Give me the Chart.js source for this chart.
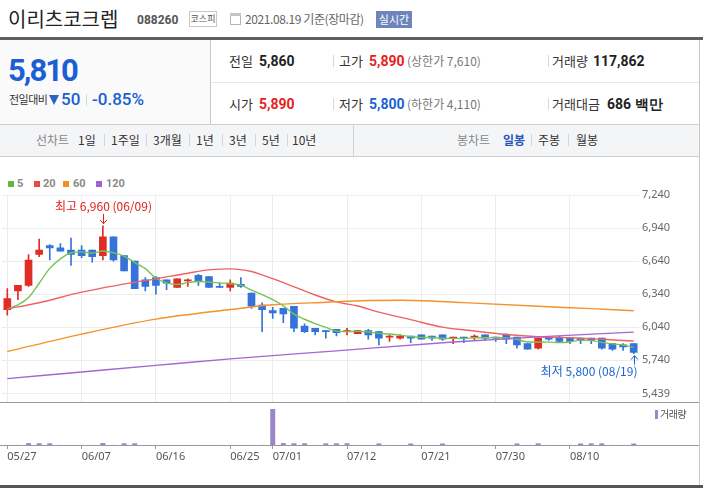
<!DOCTYPE html>
<html><head><meta charset="utf-8">
<script src="https://cdn.jsdelivr.net/npm/chart.js@4.4.0/dist/chart.umd.min.js"></script>
<style>
html,body{margin:0;padding:0;background:#fff;}
body{width:703px;height:488px;position:relative;overflow:hidden;font-family:"Noto Sans CJK KR","Noto Sans",sans-serif;color:#333;}
.a{position:absolute;white-space:nowrap;}
.num{font-family:Roboto,"Noto Sans",sans-serif;font-weight:700;}
.r1{top:53px;line-height:16px;font-size:13px;}
.r2{top:96px;line-height:16px;font-size:13px;}
.n{font-family:Roboto,sans-serif;font-weight:700;font-size:14px;color:#222;}
.g{font-size:12px;color:#777;}
.sep{position:absolute;width:1px;height:12px;background:#d8d8d8;}
.tab{top:132px;line-height:16px;font-size:12px;color:#333;}
.tsep{position:absolute;top:134px;width:1px;height:12px;background:#d6d6d6;}
.lg{position:absolute;top:181px;width:6px;height:6px;}
.lt{top:177px;font-family:Roboto,sans-serif;font-weight:700;font-size:11px;line-height:14px;color:#8a8a8a;}
</style></head><body>

<!-- header -->
<div class="a" style="left:8px;top:5px;font-size:20px;line-height:28px;color:#222;">이리츠코크렙</div>
<div class="a num" style="left:137px;top:12px;font-size:12px;line-height:16px;color:#555;">088260</div>
<div class="a" style="left:189px;top:11px;width:26px;height:14px;border:1px solid #c8c8c8;font-size:9px;line-height:14px;text-align:center;color:#555;">코스피</div>
<div class="a" style="left:230px;top:13px;width:9px;height:10px;border:1px solid #b5b5b5;"></div>
<div class="a" style="left:230px;top:13px;width:11px;height:3px;background:#c5c5c5;"></div>
<div class="a" style="left:245px;top:10px;font-size:12px;line-height:18px;color:#666;letter-spacing:-0.4px;">2021.08.19 기준(장마감)</div>
<div class="a" style="left:376px;top:11px;width:36px;height:17px;background:#6e84bd;color:#fff;font-size:11px;line-height:17px;text-align:center;">실시간</div>
<div class="a" style="left:0;top:37px;width:703px;height:3px;background:#5c6066;"></div>

<!-- info panel -->
<div class="a" style="left:0;top:40px;width:210px;height:84px;background:#fafafa;border-right:1px solid #cacaca;"></div>
<div class="a" style="left:211px;top:82px;width:488px;height:1px;background:#e6e6e6;"></div>
<div class="a num" style="left:8px;top:52px;font-size:31px;line-height:38px;color:#1a5fd6;letter-spacing:-2px;">5,810</div>
<div class="a" style="left:9px;top:92px;font-size:11px;line-height:14px;color:#333;letter-spacing:-0.5px;">전일대비</div>
<div class="a" style="left:49px;top:95px;width:0;height:0;border-left:5px solid transparent;border-right:5px solid transparent;border-top:10px solid #2a62c6;"></div>
<div class="a" style="left:61px;top:89px;font-family:Roboto,sans-serif;font-weight:500;font-size:17px;line-height:20px;color:#1a5fd6;">50</div>
<div class="sep" style="left:86px;top:94px;"></div>
<div class="a" style="left:92px;top:89px;font-family:Roboto,sans-serif;font-weight:500;font-size:17px;line-height:20px;color:#1a5fd6;">-0.85%</div>

<div class="a r1" style="left:229px;">전일</div>
<div class="a r1 n" style="left:259px;">5,860</div>
<div class="sep" style="left:333px;top:55px;"></div>
<div class="a r1" style="left:339px;">고가</div>
<div class="a r1 n" style="left:369px;color:#e8211d;">5,890</div>
<div class="a r1 g" style="left:407px;">(상한가 7,610)</div>
<div class="sep" style="left:548px;top:55px;"></div>
<div class="a r1" style="left:552px;">거래량</div>
<div class="a r1 n" style="left:593px;">117,862</div>

<div class="a r2" style="left:229px;">시가</div>
<div class="a r2 n" style="left:259px;color:#e8211d;">5,890</div>
<div class="sep" style="left:333px;top:98px;"></div>
<div class="a r2" style="left:339px;">저가</div>
<div class="a r2 n" style="left:369px;color:#1a5fd6;">5,800</div>
<div class="a r2 g" style="left:407px;">(하한가 4,110)</div>
<div class="sep" style="left:548px;top:98px;"></div>
<div class="a r2" style="left:552px;">거래대금</div>
<div class="a r2 n" style="left:607px;">686 백만</div>

<!-- tab bar -->
<div class="a" style="left:0;top:124px;width:699px;height:31px;background:#f4f5f7;border-top:1px solid #cfcfcf;border-bottom:1px solid #cfcfcf;"></div>
<div class="a" style="left:353px;top:125px;width:1px;height:31px;background:#d3d3d3;"></div>
<div class="a tab" style="left:36px;color:#888;">선차트</div>
<div class="a tab" style="left:78px;">1일</div><div class="tsep" style="left:104px;"></div>
<div class="a tab" style="left:111px;">1주일</div><div class="tsep" style="left:146px;"></div>
<div class="a tab" style="left:153px;">3개월</div><div class="tsep" style="left:189px;"></div>
<div class="a tab" style="left:196px;">1년</div><div class="tsep" style="left:222px;"></div>
<div class="a tab" style="left:229px;">3년</div><div class="tsep" style="left:255px;"></div>
<div class="a tab" style="left:262px;">5년</div><div class="tsep" style="left:287px;"></div>
<div class="a tab" style="left:292px;">10년</div>
<div class="a tab" style="left:457px;color:#888;">봉차트</div>
<div class="a tab" style="left:503px;color:#2a55b8;font-weight:700;">일봉</div><div class="tsep" style="left:531px;"></div>
<div class="a tab" style="left:538px;">주봉</div><div class="tsep" style="left:568px;"></div>
<div class="a tab" style="left:576px;">월봉</div>

<!-- legend -->
<div class="lg" style="left:8px;background:#5cb946;"></div><div class="a lt" style="left:17px;">5</div>
<div class="lg" style="left:34px;background:#e84848;"></div><div class="a lt" style="left:43px;">20</div>
<div class="lg" style="left:63px;background:#f39020;"></div><div class="a lt" style="left:73px;">60</div>
<div class="lg" style="left:96px;background:#9d62d0;"></div><div class="a lt" style="left:106px;">120</div>

<canvas id="main" width="703" height="252" class="a" style="left:0;top:160px;"></canvas>
<div class="a" style="left:0;top:402px;width:700px;height:1px;background:#9a9a9a;"></div>
<canvas id="vol" width="703" height="83" class="a" style="left:0;top:402px;"></canvas>
<div class="a" style="left:655px;top:410px;width:3px;height:9px;background:#9a86c8;"></div>
<div class="a" style="left:660px;top:407px;font-size:10px;line-height:14px;color:#555;letter-spacing:-0.5px;">거래량</div>
<div class="a" style="left:699px;top:40px;width:1px;height:448px;background:#c8c8c8;"></div>
<div class="a" style="left:0;top:485px;width:703px;height:3px;background:#555;"></div>

<script>
const dates = ['05/27','05/28','05/31','06/01','06/02','06/03','06/04','06/07','06/08','06/09',
  '06/10','06/11','06/14','06/15','06/16','06/17','06/18','06/21','06/22','06/23',
  '06/24','06/25','06/28','06/29','06/30','07/01','07/02','07/05','07/06','07/07',
  '07/08','07/09','07/12','07/13','07/14','07/15','07/16','07/19','07/20','07/21',
  '07/22','07/23','07/26','07/27','07/28','07/29','07/30','08/02','08/03','08/04',
  '08/05','08/06','08/09','08/10','08/11','08/12','08/13','08/17','08/18','08/19'];
const openP  = [6200,6370,6420,6700,6780,6760,6740,6740,6740,6690,6860,6690,6640,6470,6490,6470,6400,6460,6510,6500,
  6410,6400,6430,6350,6240,6190,6210,6230,6050,6030,6010,6020,6000,5980,6010,6000,5950,5940,5960,5970,
  5960,5970,5940,5950,5950,5970,5950,5970,5950,5890,5850,5950,5950,5940,5940,5940,5940,5890,5880,5890];
const highP  = [6390,6420,6700,6840,6790,6800,6850,6780,6740,6960,6860,6690,6640,6490,6500,6470,6480,6480,6520,6500,
  6440,6470,6490,6350,6260,6220,6210,6230,6070,6030,6010,6020,6030,6010,6020,6000,5970,5970,5960,5970,
  5960,5970,5950,5950,5970,5970,5950,5980,5950,5890,5940,5950,5960,5940,5940,5940,5940,5890,5890,5890];
const lowP   = [6150,6290,6410,6680,6650,6730,6600,6670,6630,6650,6640,6550,6390,6370,6340,6380,6400,6410,6420,6400,
  6400,6370,6400,6210,6000,6120,6080,6000,5990,5970,5940,5960,5970,5980,5930,5880,5910,5930,5900,5930,
  5920,5920,5890,5900,5920,5920,5910,5890,5850,5840,5840,5920,5900,5890,5890,5890,5840,5830,5830,5800];
const closeP = [6300,6420,6650,6740,6760,6730,6700,6690,6680,6860,6650,6550,6390,6410,6420,6440,6480,6470,6460,6400,
  6400,6440,6410,6230,6200,6170,6160,6030,6000,6000,6000,5990,6010,6010,5970,5940,5960,5960,5940,5930,
  5940,5930,5950,5940,5960,5940,5940,5930,5880,5840,5940,5930,5910,5910,5920,5920,5850,5840,5860,5810];
const volume = [6000,7000,150000,140000,135000,6500,5500,7000,6000,160000,6500,130000,135000,5500,5000,4500,5500,5000,6000,5000,
  4500,5000,5500,6000,7000,2900000,150000,140000,135000,7000,130000,135000,140000,6000,5500,125000,5500,5000,120000,5500,
  4500,120000,5000,4500,5500,4500,5000,6000,125000,7000,130000,6000,5000,6500,122000,128000,130000,7000,6000,117862];
const ma5 = [6207,6243,6309,6439,6574,6660,6716,6724,6712,6732,6716,6686,6626,6572,6484,6442,6428,6444,6454,6450,
  6442,6434,6422,6376,6336,6290,6234,6158,6112,6072,6038,6004,6000,6002,5996,5984,5978,5968,5954,5946,
  5946,5940,5938,5938,5944,5944,5946,5942,5930,5906,5906,5904,5900,5906,5922,5918,5902,5888,5878,5856];
const ma20Idx = [0,3,7,12,14,17,19,21,23,24,26,29,31,33,35,38,41,44,47,50,53,56,59];
const ma20Val = [6207,6262,6358,6448,6479,6530,6560,6569,6545,6515,6445,6332,6270,6232,6177,6108,6040,6005,5974,5953,5944,5930,5914];
const ma60Idx = [0,7,14,21,25,30,34,37,40,43,50,55,59];
const ma60Val = [5818,5977,6113,6200,6243,6266,6282,6285,6278,6263,6230,6208,6189];
const ma120Idx = [0,7,14,21,31,42,50,59];
const ma120Val = [5573,5633,5693,5752,5825,5905,5952,5995];
const yTicks = [5439,5740,6040,6340,6640,6940,7240];
const dateTickIdx = [0,7,14,21,25,32,39,46,53];

const UP = '#e12c26', DOWN = '#3474da';
const fmt = v => v.toLocaleString('en-US');
const sparse = (idx, val) => dates.map((d, i) => { const k = idx.indexOf(i); return k < 0 ? null : val[k]; });
const candleColor = dates.map((d, i) => closeP[i] >= openP[i] ? UP : DOWN);
const keepDateTicks = s => { s.ticks = s.ticks.filter(t => dateTickIdx.includes(t.value)); };

const lineDs = (data, color) => ({type: 'line', data, borderColor: color, borderWidth: 1.4, pointRadius: 0,
  spanGaps: true, cubicInterpolationMode: 'monotone', order: 0});

const notes = {
  id: 'notes',
  afterDatasetsDraw(chart) {
    const {ctx, scales: {x, y}} = chart;
    ctx.save();
    ctx.font = '12px "Noto Sans CJK KR", "Noto Sans", sans-serif';
    ctx.textBaseline = 'middle';
    ctx.lineWidth = 1;
    const hi = Math.max(...highP), hiI = highP.indexOf(hi);
    let px = Math.round(x.getPixelForValue(hiI)) + 0.5, py = y.getPixelForValue(hi);
    ctx.fillStyle = ctx.strokeStyle = '#e0201c';
    ctx.textAlign = 'center';
    ctx.fillText('최고 ' + fmt(hi) + ' (' + dates[hiI] + ')', px, py - 19);
    ctx.beginPath(); ctx.moveTo(px, py - 12); ctx.lineTo(px, py - 2);
    ctx.moveTo(px - 3.5, py - 6); ctx.lineTo(px, py - 2); ctx.lineTo(px + 3.5, py - 6); ctx.stroke();
    const lo = Math.min(...lowP), loI = lowP.lastIndexOf(lo);
    px = Math.round(x.getPixelForValue(loI)) + 0.5; py = y.getPixelForValue(lo);
    ctx.fillStyle = ctx.strokeStyle = '#1e66d0';
    ctx.textAlign = 'right';
    ctx.fillText('최저 ' + fmt(lo) + ' (' + dates[loI] + ')', px + 3, py + 18);
    ctx.beginPath(); ctx.moveTo(px, py + 11); ctx.lineTo(px, py + 2);
    ctx.moveTo(px - 3.5, py + 6); ctx.lineTo(px, py + 2); ctx.lineTo(px + 3.5, py + 6); ctx.stroke();
    ctx.restore();
  }
};

new Chart(document.getElementById('main'), {
  type: 'bar',
  data: {
    labels: dates,
    datasets: [
      {data: dates.map((d, i) => [lowP[i], highP[i]]), backgroundColor: candleColor, barThickness: 1, grouped: false, order: 3},
      {data: dates.map((d, i) => [openP[i], closeP[i]]), backgroundColor: candleColor, barThickness: 7, minBarLength: 1, grouped: false, order: 2},
      lineDs(sparse(ma120Idx, ma120Val), '#a466d2'),
      lineDs(sparse(ma60Idx, ma60Val), '#f5922a'),
      lineDs(sparse(ma20Idx, ma20Val), '#ef6262'),
      lineDs(ma5, '#74c452')
    ]
  },
  options: {
    responsive: false, animation: false, events: [],
    layout: {padding: {left: 2, top: 35, right: 0, bottom: 0}},
    plugins: {legend: {display: false}, tooltip: {enabled: false}},
    scales: {
      x: {type: 'category', offset: true, afterBuildTicks: keepDateTicks,
          ticks: {display: false, autoSkip: false},
          grid: {color: '#ececec', offset: false, drawTicks: false}, border: {display: false},
          afterFit: s => { s.height = 0; }},
      y: {position: 'right', min: 5357, max: 7240,
          afterBuildTicks: s => { s.ticks = yTicks.map(v => ({value: v})); },
          afterFit: s => { s.width = 64; },
          ticks: {padding: 3, color: '#666', font: {family: '"Noto Sans", sans-serif', size: 11}, callback: v => fmt(v)},
          grid: {color: '#ececec', drawTicks: false}, border: {display: false}}
    }
  },
  plugins: [notes]
});

const axisLine = {
  id: 'axisLine',
  afterDraw(chart) {
    const {ctx, chartArea} = chart;
    ctx.save(); ctx.strokeStyle = '#9a9a9a'; ctx.lineWidth = 1;
    const yy = Math.round(chartArea.bottom) + 0.5;
    ctx.beginPath(); ctx.moveTo(0, yy); ctx.lineTo(700, yy); ctx.stroke(); ctx.restore();
  }
};

new Chart(document.getElementById('vol'), {
  type: 'bar',
  data: {labels: dates, datasets: [{data: volume, backgroundColor: '#9a86c8', barThickness: 5, inflateAmount: 0}]},
  options: {
    responsive: false, animation: false, events: [],
    layout: {padding: {left: 2, top: 0, right: 64, bottom: 0}},
    plugins: {legend: {display: false}, tooltip: {enabled: false}},
    scales: {
      x: {type: 'category', offset: true, afterBuildTicks: keepDateTicks,
          ticks: {autoSkip: false, maxRotation: 0, align: 'start', padding: 1, color: '#555',
                  font: {family: '"Noto Sans", sans-serif', size: 11}},
          grid: {drawOnChartArea: false, drawTicks: true, tickLength: 4, tickColor: '#999', offset: false},
          border: {display: true, color: '#9a9a9a'},
          afterFit: s => { s.height = 40; }},
      y: {display: false, min: 0, max: 3460000}
    }
  },
  plugins: [axisLine]
});
</script>
</body></html>
